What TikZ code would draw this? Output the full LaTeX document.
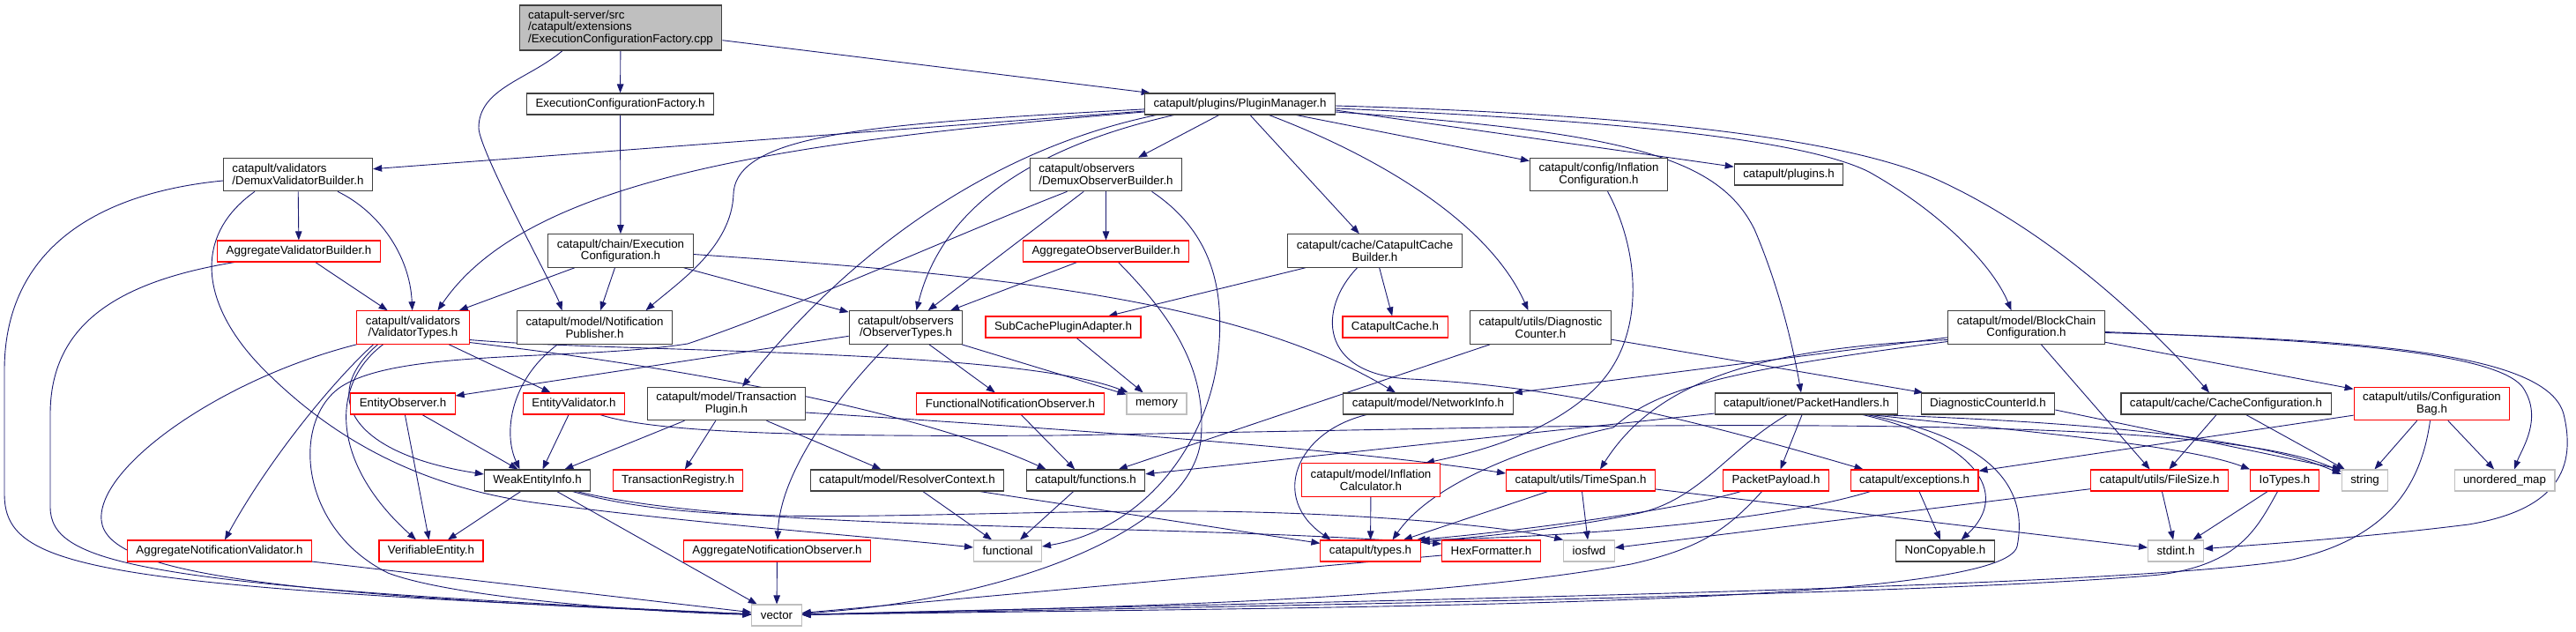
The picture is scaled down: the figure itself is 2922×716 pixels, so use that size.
\documentclass[tikz,border=0pt]{standalone}
\usepackage{fontspec}
\setmainfont{Liberation Sans}
\usetikzlibrary{arrows.meta}
\definecolor{edgeblue}{HTML}{191970}
\definecolor{sysgray}{HTML}{BFBFBF}
\definecolor{rootgray}{HTML}{BFBFBF}
\definecolor{boxblack}{HTML}{404040}
\pgfdeclarelayer{edges}
\pgfsetlayers{edges,main}
\tikzset{
  hdr/.style={draw=boxblack, line width=1.1pt, fill=white, inner xsep=10pt, inner ysep=1pt, minimum height=24pt, align=center},
  trunc/.style={hdr, draw=red},
  sys/.style={hdr, draw=sysgray},
  rootfile/.style={hdr, fill=rootgray, align=left},
  twoline/.style={minimum height=37.5pt},
  threeline/.style={minimum height=51pt},
  dep/.style={-{Triangle[length=10pt,width=7.5pt]}, draw=edgeblue, line width=0.9pt},
}
\begin{document}
\begin{tikzpicture}[x=1pt, y=-1pt, font=\fontsize{13.3}{13.6}\selectfont]
    \useasboundingbox (0,0) rectangle (2922,716);
    % 第一、二层
    \node[rootfile, threeline] (root) at (704,31.5) {catapult-server/src\\/catapult/extensions\\/ExecutionConfigurationFactory.cpp};
    \node[hdr] (ecf) at (703.5,118) {ExecutionConfigurationFactory.h};
    \node[hdr] (pm) at (1406.5,118) {catapult/plugins/PluginManager.h};
    % 第三层
    \node[hdr, twoline, align=left] (dvb) at (338,198) {catapult/validators\\/DemuxValidatorBuilder.h};
    \node[hdr, twoline, align=left] (dob) at (1254.5,198) {catapult/observers\\/DemuxObserverBuilder.h};
    \node[hdr, twoline] (icfg) at (1813.5,198) {catapult/config/Inflation\\Configuration.h};
    \node[hdr] (plug) at (2029,198) {catapult/plugins.h};
    % 第四层
    \node[trunc] (avb) at (339,285) {AggregateValidatorBuilder.h};
    \node[hdr, twoline] (exc) at (704,284.5) {catapult/chain/Execution\\Configuration.h};
    \node[trunc] (aob) at (1254.5,285) {AggregateObserverBuilder.h};
    \node[hdr, twoline] (ccb) at (1559.5,284.5) {catapult/cache/CatapultCache\\Builder.h};
    % 第五层
    \node[trunc, twoline] (vtypes) at (468.5,371.5) {catapult/validators\\/ValidatorTypes.h};
    \node[hdr, twoline] (pub) at (674.5,371.5) {catapult/model/Notification\\Publisher.h};
    \node[hdr, twoline] (otypes) at (1027.5,371.5) {catapult/observers\\/ObserverTypes.h};
    \node[trunc] (subc) at (1206,371) {SubCachePluginAdapter.h};
    \node[trunc] (ccache) at (1582.5,371) {CatapultCache.h};
    \node[hdr, twoline] (dcnt) at (1747.5,371.5) {catapult/utils/Diagnostic\\Counter.h};
    \node[hdr, twoline] (bcc) at (2298.5,371.5) {catapult/model/BlockChain\\Configuration.h};
    % 第六层
    \node[trunc] (eobs) at (457,458) {EntityObserver.h};
    \node[trunc] (eval) at (651,458) {EntityValidator.h};
    \node[hdr, twoline] (tplug) at (824,458) {catapult/model/Transaction\\Plugin.h};
    \node[trunc] (fno) at (1146,458) {FunctionalNotificationObserver.h};
    \node[sys] (memory) at (1312,458) {memory};
    \node[hdr] (netinfo) at (1620,458) {catapult/model/NetworkInfo.h};
    \node[hdr] (phand) at (2049,458) {catapult/ionet/PacketHandlers.h};
    \node[hdr] (dcid) at (2255,458) {DiagnosticCounterId.h};
    \node[hdr] (ccfg) at (2525,458) {catapult/cache/CacheConfiguration.h};
    \node[trunc, twoline] (cbag) at (2758.5,458) {catapult/utils/Configuration\\Bag.h};
    % 第七层
    \node[hdr] (weak) at (609.5,545) {WeakEntityInfo.h};
    \node[trunc] (treg) at (769,545) {TransactionRegistry.h};
    \node[hdr] (rctx) at (1029,545) {catapult/model/ResolverContext.h};
    \node[hdr] (funcs) at (1231.5,545) {catapult/functions.h};
    \node[trunc, twoline] (infcalc) at (1555,544.5) {catapult/model/Inflation\\Calculator.h};
    \node[trunc] (tspan) at (1793,545) {catapult/utils/TimeSpan.h};
    \node[trunc] (ppay) at (2014.5,545) {PacketPayload.h};
    \node[trunc] (except) at (2171.5,545) {catapult/exceptions.h};
    \node[trunc] (fsize) at (2449.5,545) {catapult/utils/FileSize.h};
    \node[trunc] (iotypes) at (2591.5,545) {IoTypes.h};
    \node[sys] (string) at (2682.5,545) {string};
    \node[sys] (umap) at (2841,545) {unordered\_map};
    % 第八、九层
    \node[trunc] (anv) at (249,625) {AggregateNotificationValidator.h};
    \node[trunc] (vent) at (489,625) {VerifiableEntity.h};
    \node[trunc] (ano) at (881.5,625) {AggregateNotificationObserver.h};
    \node[sys] (functional) at (1143,625) {functional};
    \node[trunc] (types) at (1554.5,625) {catapult/types.h};
    \node[trunc] (hexf) at (1691.5,625) {HexFormatter.h};
    \node[sys] (iosfwd) at (1802.5,625) {iosfwd};
    \node[hdr] (noncopy) at (2206.5,625) {NonCopyable.h};
    \node[sys] (stdint) at (2468,625) {stdint.h};
    \node[sys] (vector) at (881,698) {vector};

    \begin{pgfonlayer}{edges}
    % 源文件
    \draw[dep] (root) -- (ecf);
    \draw[dep] (root) -- (pm);
    \draw[dep] ([xshift=-66pt]root.south) .. controls (600,90) and (543,100) .. (543,145) .. controls (543,170) and (630,330) .. ([xshift=-37pt]pub.north);
    \draw[dep] (ecf) -- (exc);
    % PluginManager.h
    \draw[dep] (pm) -- (dvb);
    \draw[dep] (pm) .. controls (900,160) and (600,200) .. ([xshift=28pt]vtypes.north);
    \draw[dep] (pm) .. controls (1000,140) and (835,150) .. (832,220) .. controls (830,280) and (770,320) .. ([xshift=58pt]pub.north);
    \draw[dep] ([xshift=-75pt]pm.south) .. controls (1180,165) and (1070,230) .. ([xshift=12pt]otypes.north);
    \draw[dep] ([xshift=-95pt]pm.south) .. controls (1120,170) and (960,290) .. ([xshift=18pt]tplug.north);
    \draw[dep] (pm) -- (dob);
    \draw[dep] (pm) -- (ccb);
    \draw[dep] ([xshift=33pt]pm.south) .. controls (1570,180) and (1690,255) .. ([xshift=-14pt]dcnt.north);
    \draw[dep] (pm) -- (icfg);
    \draw[dep] ([yshift=-7pt]pm.east) -- (plug);
    \draw[dep] ([yshift=-2pt]pm.east) .. controls (1800,128) and (2080,150) .. (2200,205) .. controls (2330,265) and (2440,370) .. ([xshift=-19pt]ccfg.north);
    \draw[dep] ([yshift=-5pt]pm.east) .. controls (1800,135) and (2040,155) .. (2120,195) .. controls (2200,240) and (2260,300) .. ([xshift=-17pt]bcc.north);
    \draw[dep] ([yshift=-9pt]pm.east) .. controls (1850,150) and (1950,180) .. (1990,260) .. controls (2020,330) and (2035,400) .. ([xshift=-6pt]phand.north);
    % validators
    \draw[dep] (dvb) -- (avb);
    \draw[dep] ([xshift=45pt]dvb.south) .. controls (430,240) and (465,290) .. (vtypes);
    \draw[dep] ([yshift=-7pt]dvb.west) .. controls (100,220) and (5,290) .. (5,420) -- (5,560) .. controls (5,645) and (100,665) .. (vector);
    \draw[dep] ([xshift=-49pt]dvb.south) .. controls (215,270) and (230,350) .. (300,420) .. controls (380,500) and (480,555) .. (620,572) .. controls (800,595) and (1000,610) .. ([yshift=4pt]functional.west);
    \draw[dep] (avb) -- (vtypes);
    \draw[dep] ([xshift=-73pt]avb.south) .. controls (130,320) and (57,370) .. (57,470) -- (57,575) .. controls (57,640) and (160,665) .. (vector);
    \draw[dep] (vtypes) -- (eval);
    \draw[dep] ([yshift=-14pt]vtypes.east) .. controls (700,400) and (1150,395) .. (memory);
    \draw[dep] ([yshift=-17pt]vtypes.east) .. controls (800,420) and (1050,470) .. ([xshift=-45pt]funcs.north);
    \draw[dep] ([xshift=-64pt]vtypes.south) .. controls (250,430) and (110,530) .. (115,590) .. controls (120,650) and (300,675) .. (vector);
    \draw[dep] ([xshift=-45pt]vtypes.south) .. controls (370,440) and (300,530) .. ([xshift=6pt]anv.north);
    \draw[dep] ([xshift=-40pt]vtypes.south) .. controls (360,450) and (400,515) .. ([yshift=7pt]weak.west);
    \draw[dep] ([xshift=-34pt]vtypes.south) .. controls (370,440) and (380,530) .. ([xshift=-17pt]vent.north);
    % observers
    \draw[dep] (dob) -- (otypes);
    \draw[dep] (dob) -- (aob);
    \draw[dep] ([xshift=52pt]dob.south) .. controls (1370,260) and (1390,320) .. (1382,400) .. controls (1372,500) and (1300,600) .. ([yshift=5pt]functional.east);
    \draw[dep] ([xshift=-44pt]dob.south) .. controls (1100,260) and (900,350) .. (780,390) .. controls (650,410) and (450,395) .. (385,440) .. controls (330,480) and (340,600) .. (440,650) .. controls (520,680) and (750,695) .. (vector);
    \draw[dep] (aob) -- (otypes);
    \draw[dep] ([xshift=14pt]aob.south) .. controls (1330,360) and (1370,420) .. (1362,500) .. controls (1350,600) and (1150,680) .. (vector);
    \draw[dep] (otypes) -- (eobs);
    \draw[dep] (otypes) -- (fno);
    \draw[dep] (otypes) -- (memory);
    \draw[dep] ([xshift=-20pt]otypes.south) .. controls (940,460) and (885,540) .. (ano);
    % chain/ExecutionConfiguration.h
    \draw[dep] (exc) -- (vtypes);
    \draw[dep] (exc) -- (pub);
    \draw[dep] (exc) -- (otypes);
    \draw[dep] ([yshift=-4pt]exc.east) .. controls (1100,310) and (1400,335) .. ([xshift=-37pt]netinfo.north);
    % cache
    \draw[dep] (ccb) -- (subc);
    \draw[dep] (ccb) -- (ccache);
    \draw[dep] ([xshift=-20pt]ccb.south) .. controls (1495,350) and (1495,425) .. (1600,430) .. controls (1760,438) and (1900,470) .. ([xshift=-58pt]except.north);
    \draw[dep] (subc) -- (memory);
    \draw[dep] (dcnt) -- (funcs);
    \draw[dep] (dcnt) -- (dcid);
    \draw[dep] ([xshift=10pt]icfg.south) .. controls (1858,280) and (1870,380) .. (1810,440) .. controls (1760,490) and (1680,512) .. ([xshift=62pt]infcalc.north);
    % BlockChainConfiguration.h
    \draw[dep] (bcc) -- (netinfo);
    \draw[dep] ([yshift=-14pt]bcc.west) .. controls (2000,395) and (1880,430) .. ([xshift=22pt]tspan.north);
    \draw[dep] ([yshift=-16pt]bcc.west) .. controls (1960,420) and (1880,440) .. (1830,485) .. controls (1760,500) and (1630,540) .. ([xshift=25pt]types.north);
    \draw[dep] (bcc) -- (fsize);
    \draw[dep] (bcc) -- (cbag);
    \draw[dep] ([yshift=-5pt]bcc.east) .. controls (2600,385) and (2830,395) .. (2862,440) .. controls (2885,475) and (2860,510) .. ([xshift=11pt]umap.north);
    \draw[dep] ([yshift=-6pt]bcc.east) .. controls (2680,385) and (2890,400) .. (2908,470) .. controls (2925,540) and (2890,580) .. (2800,595) .. controls (2680,610) and (2560,618) .. (stdint);
    \draw[dep] (ccfg) -- (fsize);
    \draw[dep] (ccfg) -- (string);
    \draw[dep] ([yshift=-7pt]dcid.east) -- (string.north west);
    \draw[dep] (cbag) -- (except);
    \draw[dep] (cbag) -- (string);
    \draw[dep] (cbag) -- (umap);
    \draw[dep] ([xshift=-2pt]cbag.south) .. controls (2745,560) and (2700,612) .. (2600,635) .. controls (2400,668) and (1500,682) .. (vector);
    % PacketHandlers.h
    \draw[dep] (phand) -- (funcs);
    \draw[dep] (phand) -- (ppay);
    \draw[dep] ([xshift=-22pt]phand.south) .. controls (1960,510) and (1930,565) .. (1860,582) .. controls (1760,603) and (1660,610) .. ([yshift=-3pt]types.north east);
    \draw[dep] ([xshift=64pt]phand.south) .. controls (2240,500) and (2282,560) .. ([xshift=18pt]noncopy.north);
    \draw[dep] ([xshift=69pt]phand.south) .. controls (2270,500) and (2300,560) .. (2288,620) .. controls (2270,690) and (1500,688) .. (vector);
    \draw[dep] ([xshift=73pt]phand.south) .. controls (2300,490) and (2480,505) .. (iotypes.north west);
    \draw[dep] ([xshift=78pt]phand.south) .. controls (2350,478) and (2560,495) .. ([yshift=7pt]string.west);
    % 其余
    \draw[dep] (tspan) -- (types);
    \draw[dep] (tspan) -- (iosfwd);
    \draw[dep] (tspan) -- (stdint);
    \draw[dep] (infcalc) -- (types);
    \draw[dep] ([xshift=-70pt]netinfo.south) .. controls (1470,490) and (1440,565) .. ([xshift=-45pt]types.north);
    \draw[dep] ([xshift=-40pt]ppay.south) .. controls (1900,580) and (1700,605) .. ([xshift=-5pt]types.north east);
    \draw[dep] ([xshift=-16pt]ppay.south) .. controls (1960,600) and (1930,622) .. (1850,640) .. controls (1600,685) and (1200,690) .. (vector);
    \draw[dep] (except) -- (noncopy);
    \draw[dep] ([xshift=-50pt]except.south) .. controls (2000,595) and (1750,610) .. (types.north east);
    \draw[dep] (fsize) -- (stdint);
    \draw[dep] (fsize) -- (iosfwd);
    \draw[dep] (iotypes) -- (stdint);
    \draw[dep] ([xshift=-8pt]iotypes.south) .. controls (2560,600) and (2540,640) .. (2450,652) .. controls (2200,675) and (1400,688) .. (vector);
    \draw[dep] (rctx) -- (functional);
    \draw[dep] (rctx) -- (types);
    \draw[dep] (funcs) -- (functional);
    \draw[dep] (fno) -- (funcs);
    \draw[dep] (tplug) -- (weak);
    \draw[dep] (tplug) -- (treg);
    \draw[dep] (tplug) -- (rctx);
    \draw[dep] ([yshift=-10pt]tplug.east) .. controls (1100,480) and (1500,505) .. ([yshift=8pt]tspan.west);
    \draw[dep] (eval) -- (weak);
    \draw[dep] ([xshift=30pt]eval.south) .. controls (740,490) and (900,496) .. (1200,494) -- (1750,484) .. controls (2300,478) and (2560,492) .. ([yshift=10pt]string.west);
    \draw[dep] (eobs) -- (vent);
    \draw[dep] (eobs) -- (weak);
    \draw[dep] ([xshift=-42pt]pub.south) .. controls (580,430) and (570,490) .. ([xshift=-20pt]weak.north);
    \draw[dep] (weak) -- (vent);
    \draw[dep] (weak) -- (vector);
    \draw[dep] ([xshift=40pt]weak.south) .. controls (800,600) and (1000,582) .. (1300,580) .. controls (1500,578) and (1700,595) .. (iosfwd.north west);
    \draw[dep] ([xshift=45pt]weak.south) .. controls (850,605) and (1300,592) .. ([yshift=8pt]hexf.west);
    \draw[dep] (ano) -- (vector);
    \draw[dep] (anv) -- (vector);
    \draw[dep] (hexf) -- (vector);
    \end{pgfonlayer}
\end{tikzpicture}
\end{document}
